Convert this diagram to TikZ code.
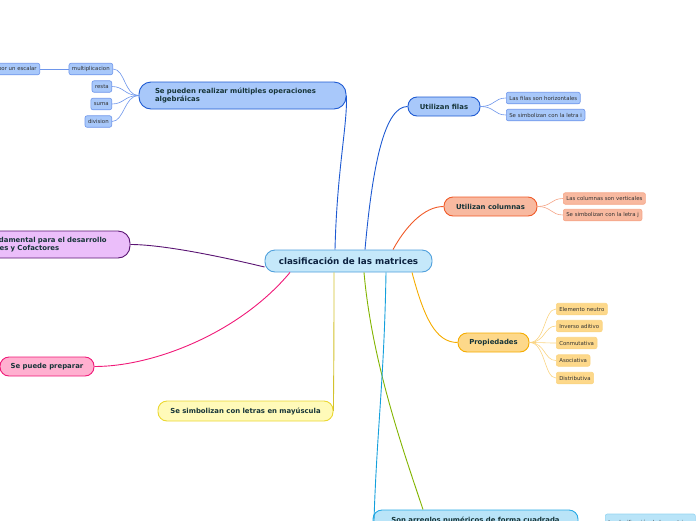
\documentclass[tikz,border=0pt]{standalone}
\usepackage{fontspec}
\setmainfont{DejaVu Sans}
\usepackage{xcolor}
\usepackage{tikz}
\usetikzlibrary{positioning}
\definecolor{centralfill}{RGB}{197,232,250}
\definecolor{centraldraw}{RGB}{80,160,220}
\definecolor{centraltext}{RGB}{12,34,64}
\definecolor{topictext}{RGB}{22,52,56}
\definecolor{leaftext}{RGB}{50,50,50}
\definecolor{bluefill}{RGB}{168,200,250}
\definecolor{bluedraw}{RGB}{30,90,210}
\definecolor{bluetwig}{RGB}{110,150,235}
\definecolor{orangefill}{RGB}{248,185,160}
\definecolor{orangedraw}{RGB}{240,90,40}
\definecolor{orangetwig}{RGB}{245,165,135}
\definecolor{goldfill}{RGB}{253,216,138}
\definecolor{golddraw}{RGB}{245,172,0}
\definecolor{goldtwig}{RGB}{250,212,130}
\definecolor{yellowfill}{RGB}{255,250,185}
\definecolor{yellowdraw}{RGB}{235,215,50}
\definecolor{cyanfill}{RGB}{185,228,248}
\definecolor{cyandraw}{RGB}{40,170,230}
\definecolor{cyanline}{RGB}{20,160,220}
\definecolor{greenline}{RGB}{130,180,0}
\definecolor{purplefill}{RGB}{235,190,250}
\definecolor{purpledraw}{RGB}{90,20,115}
\definecolor{pinkfill}{RGB}{255,176,208}
\definecolor{pinkdraw}{RGB}{240,25,120}

\begin{document}
\begin{tikzpicture}[x=1pt, y=-1pt,
    topic/.style={draw, rounded corners=9pt, line width=0.9pt, text=topictext,
      font=\fontsize{6.9}{8.2}\selectfont\bfseries, minimum height=19pt, inner sep=1pt},
    leaf/.style={draw, rounded corners=2pt, line width=0.6pt, text=leaftext,
      font=\fontsize{5.4}{6.2}\selectfont, minimum height=11.5pt, inner xsep=3pt, inner ysep=1pt},
    link/.style={line width=0.9pt},
    twig/.style={line width=0.6pt}]
    \useasboundingbox (0,0) rectangle (696,520);
    \clip (0,0) rectangle (696,520);

    % central topic
    \node[draw=centraldraw, fill=centralfill, rounded corners=10pt, line width=0.9pt,
      minimum width=167pt, minimum height=22pt, text=centraltext,
      font=\fontsize{8.8}{10}\selectfont\bfseries] (central) at (348.5,261) {clasificación de las matrices};

    % main topics
    \node[topic, draw=bluedraw, fill=bluefill, rounded corners=12pt, minimum width=207pt,
      minimum height=27pt, text width=175pt, align=left] (oper) at (242.5,95.5)
      {Se pueden realizar múltiples operaciones\\algebráicas};
    \node[topic, draw=bluedraw, fill=bluefill, minimum width=72pt] (filas) at (444,106.5) {Utilizan filas};
    \node[topic, draw=orangedraw, fill=orangefill, minimum width=93pt] (columnas) at (490.5,206.5) {Utilizan columnas};
    \node[topic, draw=golddraw, fill=goldfill, minimum width=71pt] (propiedades) at (493.5,342.5) {Propiedades};
    \node[topic, draw=yellowdraw, fill=yellowfill, minimum width=175pt, minimum height=20pt] (mayuscula) at (245.5,411)
      {Se simbolizan con letras en mayúscula};
    \node[topic, draw=cyandraw, fill=cyanfill, minimum width=205pt, minimum height=20pt] (arreglos) at (475.5,520)
      {Son arreglos numéricos de forma cuadrada};
    \node[topic, draw=purpledraw, fill=purplefill, rounded corners=12pt, minimum width=170pt,
      minimum height=27pt, text width=140pt, align=left] (desarrollo) at (45,244.5)
      {Es fundamental para el desarrollo\\Menores y Cofactores};
    \node[topic, draw=pinkdraw, fill=pinkfill, minimum width=94pt] (preparar) at (47,366.5) {Se puede preparar};
    \node[leaf, draw=cyandraw!50, fill=cyanfill, minimum height=16pt, anchor=west] (clasif) at (605,522)
      {La clasificación de las matrices};
    \coordinate (abajo) at (373,560);

    % leaves
    \node[leaf, draw=bluetwig, fill=bluefill, anchor=east] (multi) at (113,69) {multiplicacion};
    \node[leaf, draw=bluetwig, fill=bluefill, anchor=east] (resta) at (112,86.5) {resta};
    \node[leaf, draw=bluetwig, fill=bluefill, anchor=east] (suma) at (112,104) {suma};
    \node[leaf, draw=bluetwig, fill=bluefill, anchor=east] (division) at (112,121.5) {division};
    \node[leaf, draw=bluetwig, fill=bluefill, anchor=east] (escalar) at (40,69) {por un escalar};

    \node[leaf, draw=bluetwig, fill=bluefill, anchor=west] (horiz) at (506,98) {Las filas son horizontales};
    \node[leaf, draw=bluetwig, fill=bluefill, anchor=west] (letrai) at (506,115) {Se simbolizan con la letra i};

    \node[leaf, draw=orangetwig, fill=orangefill, anchor=west] (vert) at (563,198.5) {Las columnas son verticales};
    \node[leaf, draw=orangetwig, fill=orangefill, anchor=west] (letraj) at (563,215) {Se simbolizan con la letra j};

    \node[leaf, draw=goldtwig, fill=goldfill, anchor=west] (neutro) at (556,309) {Elemento neutro};
    \node[leaf, draw=goldtwig, fill=goldfill, anchor=west] (inverso) at (556,326) {Inverso aditivo};
    \node[leaf, draw=goldtwig, fill=goldfill, anchor=west] (conmut) at (556,343) {Conmutativa};
    \node[leaf, draw=goldtwig, fill=goldfill, anchor=west] (asoc) at (556,360.5) {Asociativa};
    \node[leaf, draw=goldtwig, fill=goldfill, anchor=west] (distrib) at (556,378) {Distributiva};

    % links from the central topic
    \draw[link, bluedraw] ([xshift=-13.5pt]central.north) .. controls +(2,-80) and +(1,30) .. (oper.east);
    \draw[link, bluedraw] ([xshift=16.5pt]central.north) .. controls +(8,-90) and +(-22,0) .. (filas.west);
    \draw[link, orangedraw] ([xshift=44.5pt]central.north) .. controls +(12,-22) and +(-20,0) .. (columnas.west);
    \draw[link, golddraw] ([xshift=63.5pt]central.south) .. controls +(12,45) and +(-22,0) .. (propiedades.west);
    \draw[link, yellowdraw!90!black] ([xshift=-14.5pt]central.south) .. controls +(0,100) and +(0,-20) .. (mayuscula.east);
    \draw[link, greenline] ([xshift=15.5pt]central.south) .. controls +(8,90) and +(-20,-60) .. ([xshift=-52.5pt]arreglos.north);
    \draw[link, cyanline] ([xshift=37.5pt]central.south) .. controls +(-2,120) and +(2,-120) .. (abajo);
    \draw[link, purpledraw] ([yshift=-6pt]central.west) .. controls +(-50,-12) and +(30,0) .. (desarrollo.east);
    \draw[link, pinkdraw] ([xshift=-58.5pt]central.south) .. controls +(-50,60) and +(60,0) .. (preparar.east);

    % twigs to the leaves
    \foreach \leafname in {multi, resta, suma, division}
      \draw[twig, bluetwig] (oper.west) .. controls +(-14,0) and +(12,0) .. (\leafname.east);
    \draw[twig, bluetwig] (multi.west) -- (escalar.east);
    \foreach \leafname in {horiz, letrai}
      \draw[twig, bluetwig] (filas.east) .. controls +(14,0) and +(-12,0) .. (\leafname.west);
    \foreach \leafname in {vert, letraj}
      \draw[twig, orangetwig] (columnas.east) .. controls +(14,0) and +(-12,0) .. (\leafname.west);
    \foreach \leafname in {neutro, inverso, conmut, asoc, distrib}
      \draw[twig, goldtwig] (propiedades.east) .. controls +(16,0) and +(-12,0) .. (\leafname.west);
\end{tikzpicture}
\end{document}
